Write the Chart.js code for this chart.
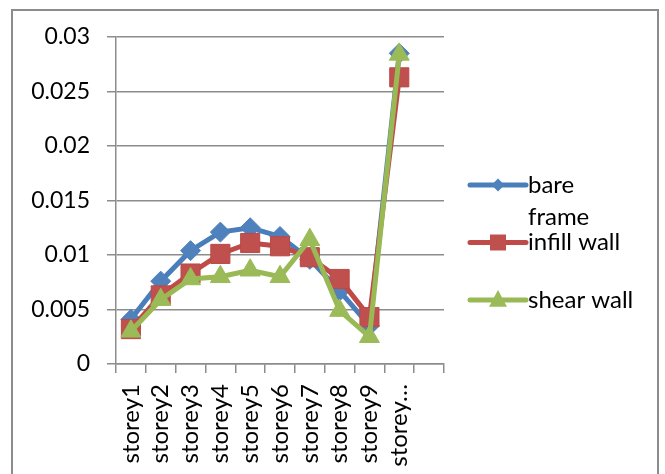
<!DOCTYPE html>
<html>
<head>
<meta charset="utf-8">
<script src="https://cdn.jsdelivr.net/npm/chart.js@4.4.1/dist/chart.umd.min.js"></script>
<style>
  html, body { margin: 0; padding: 0; background: #ffffff; }
  canvas { display: block; }
</style>
</head>
<body>
<canvas id="drift" width="665" height="474"></canvas>
<script>
// Storey categories (the last slot is an empty category on the axis)
const storeys = ['storey1', 'storey2', 'storey3', 'storey4', 'storey5',
                 'storey6', 'storey7', 'storey8', 'storey9', 'storey\u2026', ''];

// Drift values per storey for each structural system
const bareFrame  = [0.0041, 0.0076, 0.0104, 0.0121, 0.0125, 0.0117, 0.0096, 0.0067, 0.0035, 0.0285];
const infillWall = [0.0032, 0.0063, 0.0083, 0.0101, 0.0111, 0.0108, 0.0098, 0.0078, 0.0043, 0.0263];
const shearWall  = [0.0030, 0.0059, 0.0078, 0.0080, 0.0086, 0.0080, 0.0114, 0.0049, 0.0025, 0.0284];

// Value axis ticks
const yTicks = [0, 0.005, 0.01, 0.015, 0.02, 0.025, 0.03];

const seriesNames = ['bare\nframe', 'infill wall', 'shear wall'];

const FONT = 'Lato, "Open Sans", sans-serif';
const GRID = '#8c8c8c';

// Outer frame around the whole chart
const outerFrame = {
  id: 'outerFrame',
  beforeDraw(chart) {
    const ctx = chart.ctx;
    ctx.save();
    ctx.fillStyle = '#ffffff';
    ctx.fillRect(0, 0, chart.width, chart.height);
    ctx.strokeStyle = '#8c8c8c';
    ctx.lineWidth = 2;
    ctx.strokeRect(12, 10, chart.width - 19, chart.height + 20);
    ctx.restore();
  }
};

function drawMarker(ctx, style, x, y, r) {
  ctx.beginPath();
  if (style === 'rectRot') {
    ctx.moveTo(x, y - r); ctx.lineTo(x + r, y); ctx.lineTo(x, y + r); ctx.lineTo(x - r, y);
  } else if (style === 'rect') {
    ctx.rect(x - r, y - r, 2 * r, 2 * r);
  } else {
    ctx.moveTo(x, y - r * 1.1); ctx.lineTo(x + r, y + r * 0.75); ctx.lineTo(x - r, y + r * 0.75);
  }
  ctx.closePath();
  ctx.fill();
}

// Series key on the right: line with marker, then (possibly wrapped) label
const seriesKey = {
  id: 'seriesKey',
  afterDraw(chart) {
    const ctx = chart.ctx;
    const area = chart.chartArea;
    const x0 = area.right + 26;
    const lineLen = 56;
    const rowStep = 57.5;
    const firstRow = area.top + 148;
    const lineGap = 32;
    const keySizes = [6.5, 8, 9];
    ctx.save();
    ctx.font = '24px ' + FONT;
    ctx.textBaseline = 'middle';
    ctx.textAlign = 'left';
    chart.data.datasets.forEach((ds, i) => {
      const y = firstRow + i * rowStep;
      ctx.strokeStyle = ds.borderColor;
      ctx.lineWidth = 5;
      ctx.lineCap = 'round';
      ctx.beginPath();
      ctx.moveTo(x0, y);
      ctx.lineTo(x0 + lineLen, y);
      ctx.stroke();
      ctx.fillStyle = ds.pointBackgroundColor;
      drawMarker(ctx, ds.pointStyle, x0 + lineLen / 2, y, keySizes[i]);
      ctx.fillStyle = '#000000';
      ds.label.split('\n').forEach((line, k) => {
        ctx.fillText(line, x0 + lineLen + 2, y + k * lineGap);
      });
    });
    ctx.restore();
  }
};

new Chart(document.getElementById('drift'), {
  type: 'line',
  data: {
    labels: storeys,
    datasets: [
      {
        label: seriesNames[0],
        data: bareFrame,
        borderColor: '#4a7ebb',
        backgroundColor: '#4f81bd',
        pointBackgroundColor: '#4f81bd',
        pointBorderColor: '#4f81bd',
        borderWidth: 5,
        pointStyle: 'rectRot',
        pointRadius: 10,
        pointBorderWidth: 1,
        tension: 0,
        order: 3
      },
      {
        label: seriesNames[1],
        data: infillWall,
        borderColor: '#be4b48',
        backgroundColor: '#c0504d',
        pointBackgroundColor: '#c0504d',
        pointBorderColor: '#b94a47',
        borderWidth: 5,
        pointStyle: 'rect',
        pointRadius: 13.5,
        pointBorderWidth: 1,
        tension: 0,
        order: 2
      },
      {
        label: seriesNames[2],
        data: shearWall,
        borderColor: '#98b954',
        backgroundColor: '#9bbb59',
        pointBackgroundColor: '#9bbb59',
        pointBorderColor: '#9bbb59',
        borderWidth: 5,
        pointStyle: 'triangle',
        pointRadius: 11.5,
        pointBorderWidth: 1,
        tension: 0,
        order: 1
      }
    ]
  },
  options: {
    responsive: false,
    animation: false,
    layout: { padding: { left: 0, top: 37, right: 221, bottom: 0 } },
    plugins: {
      legend: { display: false },
      tooltip: { enabled: false }
    },
    scales: {
      x: {
        type: 'category',
        offset: true,
        afterFit(scale) { scale.height = 110; },
        grid: {
          offset: true,
          drawOnChartArea: false,
          drawTicks: true,
          tickLength: 9,
          color: GRID,
          lineWidth: 1.5
        },
        border: { display: true, color: GRID, width: 1.5 },
        ticks: {
          autoSkip: false,
          maxRotation: 90,
          minRotation: 90,
          padding: 11,
          color: '#000000',
          font: { family: FONT, size: 24 }
        }
      },
      y: {
        min: 0,
        max: 0.03,
        afterFit(scale) { scale.width = 116; },
        afterBuildTicks(scale) { scale.ticks = yTicks.map(v => ({ value: v })); },
        grid: {
          drawTicks: true,
          tickLength: 9,
          color: GRID,
          lineWidth: 1.5
        },
        border: { display: true, color: GRID, width: 1.5 },
        ticks: {
          padding: 17,
          color: '#000000',
          font: { family: FONT, size: 23 },
          callback: v => String(Number(v.toFixed(3)))
        }
      }
    }
  },
  plugins: [outerFrame, seriesKey]
});
</script>
</body>
</html>
